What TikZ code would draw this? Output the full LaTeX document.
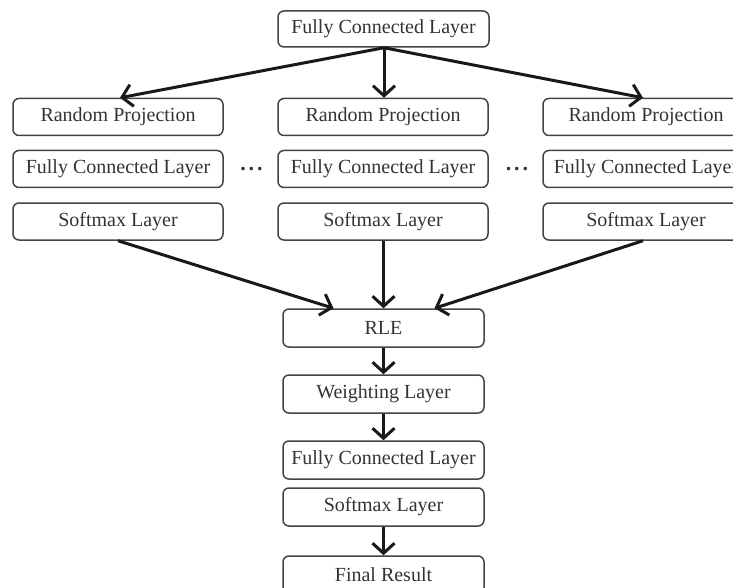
\documentclass[tikz,border=0pt]{standalone}
\usepackage{fontspec}
\setmainfont{Liberation Serif}
\usetikzlibrary{arrows.meta}
\definecolor{txt}{HTML}{333333}
\definecolor{edge}{HTML}{444444}
\tikzset{
  layerbox/.style={draw=edge, line width=1.5pt, rounded corners=6pt, text=txt,
    font=\fontsize{20pt}{24pt}\selectfont, inner sep=0pt, anchor=center},
  colbox/.style={layerbox, minimum width=210pt, minimum height=37pt},
  midbox/.style={layerbox, minimum width=201pt, minimum height=38pt},
  flow/.style={draw=black!90, line width=3pt,
    -{Straight Barb[length=10pt, width=22pt, line width=3pt]}},
  dotsnode/.style={text=txt, font=\fontsize{22pt}{24pt}\selectfont\bfseries, inner sep=0pt}
}
\begin{document}
\begin{tikzpicture}[x=1pt, y=-1pt]
\useasboundingbox (0,0) rectangle (733,588);
\node[layerbox, minimum width=211pt, minimum height=36pt] (top) at (383.5,29) {Fully Connected Layer};

\node[colbox] (rpl) at (118,117) {Random Projection};
\node[colbox] (fcl) at (118,169) {Fully Connected Layer};
\node[colbox] (sml) at (118,221.5) {Softmax Layer};

\node[colbox] (rpm) at (383,117) {Random Projection};
\node[colbox] (fcm) at (383,169) {Fully Connected Layer};
\node[colbox] (smm) at (383,221.5) {Softmax Layer};

\node[colbox, minimum width=206pt] (rpr) at (646,117) {Random Projection};
\node[colbox, minimum width=206pt] (fcr) at (646,169) {Fully Connected Layer};
\node[colbox, minimum width=206pt] (smr) at (646,221.5) {Softmax Layer};

\node[dotsnode] (d1) at (251.5,169) {.\hspace{3pt}.\hspace{3pt}.};
\node[dotsnode] (d2) at (517,169) {.\hspace{3pt}.\hspace{3pt}.};

\node[midbox] (rle) at (383.5,328) {RLE};
\node[midbox] (wl) at (383.5,394) {Weighting Layer};
\node[midbox] (fc2) at (383.5,460) {Fully Connected Layer};
\node[midbox] (sm2) at (383.5,507) {Softmax Layer};
\node[midbox] (fr) at (383.5,575) {Final Result};

\coordinate (topS) at ([xshift=0.5pt]top.south);
\draw[flow] (topS) -- ([xshift=2pt]rpl.north);
\draw[flow] (topS) -- ([xshift=1pt]rpm.north);
\draw[flow] (topS) -- ([xshift=-3pt]rpr.north);

\draw[flow] (sml.south) -- ([xshift=-50pt]rle.north);
\draw[flow] ([xshift=0.5pt]smm.south) -- (rle.north);
\draw[flow] ([xshift=-3pt]smr.south) -- ([xshift=51pt]rle.north);

\draw[flow] (rle) -- (wl);
\draw[flow] (wl) -- (fc2);
\draw[flow] (sm2) -- (fr);
\end{tikzpicture}
\end{document}
